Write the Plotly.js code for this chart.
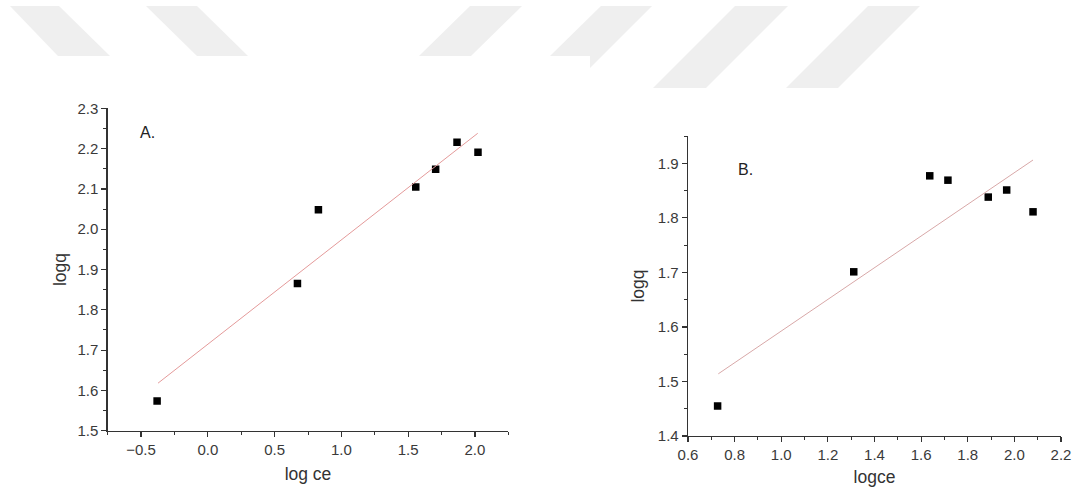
<!DOCTYPE html>
<html>
<head>
<meta charset="utf-8">
<script src="https://cdn.plot.ly/plotly-3.0.1.min.js"></script>
<style>
html,body{margin:0;padding:0;background:#fff;}
#chart{width:1077px;height:491px;}
</style>
</head>
<body>
<div id="chart"></div>
<script>
// Panel A data
const logCeA = [-0.38, 0.671, 0.828, 1.557, 1.706, 1.866, 2.023];
const logqA  = [1.574, 1.865, 2.048, 2.105, 2.149, 2.216, 2.191];
const fitXA  = [-0.373, 2.021];
const fitYA  = [1.618, 2.238];

// Panel B data
const logCeB = [0.727, 1.311, 1.637, 1.715, 1.888, 1.967, 2.080];
const logqB  = [1.455, 1.701, 1.877, 1.869, 1.838, 1.851, 1.811];
const fitXB  = [0.730, 2.080];
const fitYB  = [1.514, 1.906];

const panelLabels = ["A.", "B."];
const xTitles = ["log ce", "logce"];
const yTitles = ["logq", "logq"];

const W = 1077, H = 491;
const px = v => v / W;
const py = v => 1 - v / H;

const font = "Arial, Liberation Sans, sans-serif";
const axColor = "#333333";
const tickSize = 15;
const titleSize = 17.5;

function axisCommon(extra) {
  return Object.assign({
    showline: true, linecolor: axColor, linewidth: 1.3,
    showgrid: false, zeroline: false,
    ticks: "outside", ticklen: 5, tickwidth: 1.2, tickcolor: axColor,
    tickfont: {family: font, size: tickSize, color: "#3a3a3a"},
    mirror: false, fixedrange: true
  }, extra);
}

const traces = [
  {x: logCeA, y: logqA, type: "scatter", mode: "markers",
   marker: {symbol: "square", size: 7.5, color: "#000"}, xaxis: "x", yaxis: "y", hoverinfo: "skip"},
  {x: fitXA, y: fitYA, type: "scatter", mode: "lines",
   line: {color: "#e49a9a", width: 1}, xaxis: "x", yaxis: "y", hoverinfo: "skip"},
  {x: logCeB, y: logqB, type: "scatter", mode: "markers",
   marker: {symbol: "square", size: 7.5, color: "#000"}, xaxis: "x2", yaxis: "y2", hoverinfo: "skip"},
  {x: fitXB, y: fitYB, type: "scatter", mode: "lines",
   line: {color: "#d8a8a8", width: 1}, xaxis: "x2", yaxis: "y2", hoverinfo: "skip"}
];

// faint watermark parallelograms in the top band
const wm = [
  [[10,6],[59,6],[110,56],[58,56]],
  [[146,6],[197,6],[248,56],[197,56]],
  [[470,6],[522,6],[471,56],[419,56]],
  [[601,6],[652,6],[590,68],[590,56],[550,56]],
  [[735,6],[788,6],[706,88],[653,88]],
  [[868,6],[920,6],[838,88],[786,88]]
];
const shapes = wm.map(pts => ({
  type: "path", xref: "paper", yref: "paper", layer: "below",
  path: "M " + pts.map(p => px(p[0]).toFixed(5) + "," + py(p[1]).toFixed(5)).join(" L ") + " Z",
  fillcolor: "#efefef", line: {width: 0}
}));

const layout = {
  width: W, height: H,
  margin: {l: 0, r: 0, t: 0, b: 0},
  paper_bgcolor: "#fff", plot_bgcolor: "rgba(0,0,0,0)",
  showlegend: false,
  font: {family: font, color: "#333"},
  xaxis: axisCommon({
    domain: [px(107.7), px(508.3)], range: [-0.75, 2.25],
    tickvals: [-0.5, 0, 0.5, 1.0, 1.5, 2.0],
    ticktext: ["\u22120.5", "0.0", "0.5", "1.0", "1.5", "2.0"],
    minor: {ticks: "outside", ticklen: 3, tickwidth: 1, tickcolor: axColor, dtick: 0.25, tick0: 0, showgrid: false},
    anchor: "y",
    title: {text: xTitles[0], font: {family: font, size: titleSize, color: "#333"}, standoff: 10}
  }),
  yaxis: axisCommon({
    domain: [py(430.7), py(108.3)], range: [1.5, 2.3],
    dtick: 0.1, tick0: 1.5, tickformat: ".1f",
    minor: {ticks: "outside", ticklen: 3, tickwidth: 1, tickcolor: axColor, dtick: 0.05, tick0: 0, showgrid: false},
    anchor: "x",
    title: {text: yTitles[0], font: {family: font, size: titleSize, color: "#333"}, standoff: 6}
  }),
  xaxis2: axisCommon({
    domain: [px(688), px(1061)], range: [0.6, 2.2],
    dtick: 0.2, tick0: 0.6, tickformat: ".1f",
    minor: {ticks: "outside", ticklen: 3, tickwidth: 1, tickcolor: axColor, dtick: 0.1, tick0: 0, showgrid: false},
    anchor: "y2",
    title: {text: xTitles[1], font: {family: font, size: titleSize, color: "#333"}, standoff: 8}
  }),
  yaxis2: axisCommon({
    domain: [py(436), py(136)], range: [1.4, 1.95],
    tickvals: [1.4, 1.5, 1.6, 1.7, 1.8, 1.9], tickformat: ".1f",
    minor: {ticks: "outside", ticklen: 3, tickwidth: 1, tickcolor: axColor, dtick: 0.05, tick0: 0, showgrid: false},
    anchor: "x2",
    title: {text: yTitles[1], font: {family: font, size: titleSize, color: "#333"}, standoff: 8}
  }),
  annotations: [
    {text: panelLabels[0], xref: "x", yref: "y", x: -0.52, y: 2.239, xanchor: "left", yanchor: "middle",
     showarrow: false, font: {family: font, size: 16, color: "#222"}},
    {text: panelLabels[1], xref: "x2", yref: "y2", x: 0.806, y: 1.888, xanchor: "left", yanchor: "middle",
     showarrow: false, font: {family: font, size: 16, color: "#222"}}
  ],
  shapes: shapes
};

Plotly.newPlot("chart", traces, layout, {displayModeBar: false, staticPlot: true});
</script>
</body>
</html>
